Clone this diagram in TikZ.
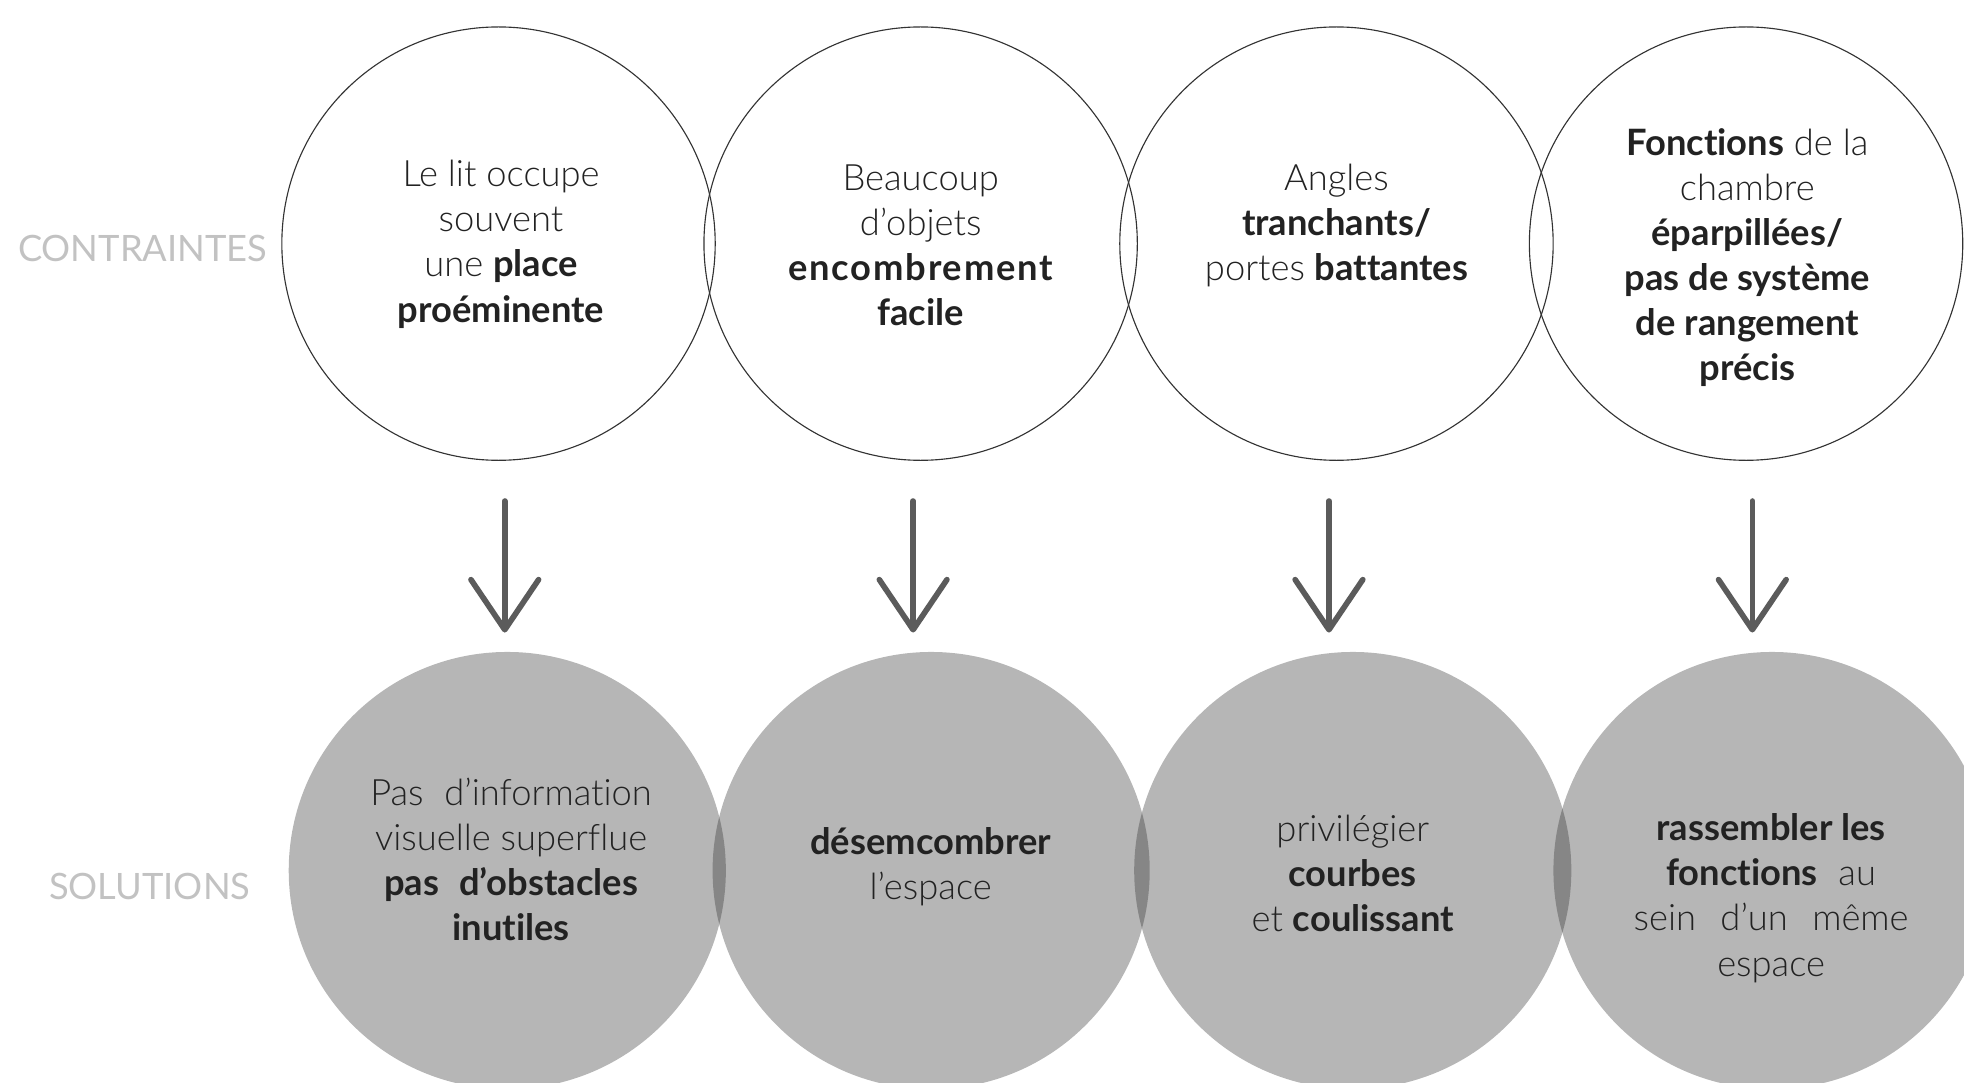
\documentclass[tikz,border=0pt]{standalone}
\usepackage{fontspec}
\setmainfont{Lato}[UprightFont=* Light, BoldFont=* Bold, Ligatures=NoCommon]
\newfontfamily\labelfont{Lato}
\usetikzlibrary{arrows.meta}
\definecolor{outline}{HTML}{333333}
\definecolor{solfill}{HTML}{323232}
\definecolor{arrowcol}{HTML}{5B5B5B}
\definecolor{sidecol}{HTML}{C2C2C2}
\definecolor{txtcol}{HTML}{222222}
\begin{document}
\begin{tikzpicture}[x=1pt,y=-1pt,
  topc/.style={circle, draw=outline, line width=0.9pt, minimum size=346pt, inner sep=0pt},
  botc/.style={circle, fill=solfill, fill opacity=0.356, draw=none, minimum size=349pt, inner sep=0pt},
  txt/.style={align=center, text=txtcol, font=\fontsize{29}{36}\selectfont, inner sep=0pt},
  side/.style={text=sidecol, font=\labelfont\fontsize{29}{36}\selectfont, inner sep=0pt},
  flow/.style={draw=arrowcol, line width=4.5pt, line cap=round, line join=round,
    -{Straight Barb[length=40pt, width=54pt, line cap=round, line join=round]}}
]
\useasboundingbox (0,0) rectangle (1568,864.6);
\clip (0,0) rectangle (1568,864.6);

% side labels
\node[side] (lc) at (114,198) {CONTRAINTES};
\node[side] (ls) at (119.5,708) {SOLUTIONS};

% top circles
\node[topc] (c1) at (398,194.5) {};
\node[topc] (c2) at (735,194.5) {};
\node[topc] (c3) at (1067,194.5) {};
\node[topc] (c4) at (1394,194.5) {};

% bottom circles
\node[botc] (b1) at (405,695) {};
\node[botc] (b2) at (743.4,695) {};
\node[botc] (b3) at (1080,695) {};
\node[botc] (b4) at (1414.7,695) {};

% top texts
\node[txt] (t1) at (400,195) {Le lit occupe\\souvent\\une \textbf{place}\\\textbf{proéminente}};
\node[txt] (t2) at (735,196) {Beaucoup\\d’objets\\{\bfseries\addfontfeature{LetterSpace=5}encombrement}\\\textbf{facile}};
\node[txt] (t3) at (1067,180) {Angles\\\textbf{tranchants/}\\portes \textbf{battantes}};
\node[txt] (t4) at (1395,205.5) {\textbf{Fonctions} de la\\chambre\\\textbf{éparpillées/}\\\textbf{pas de système}\\\textbf{de rangement}\\\textbf{précis}};

% bottom texts
\node[txt] (s1) at (408,686) {Pas\hspace{0.3em} d’information\\visuelle superflue\\\textbf{pas\hspace{0.3em} d’obstacles}\\\textbf{inutiles}};
\node[txt] (s2) at (743,692) {\textbf{désemcombrer}\\l’espace};
\node[txt] (s3) at (1080,697) {privilégier\\\textbf{courbes}\\et \textbf{coulissant}};
\node[txt] (s4) at (1414,717) {\textbf{rassembler les}\\\textbf{fonctions}\hspace{0.3em} au\\sein\hspace{0.4em} d’un\hspace{0.4em} même\\espace};

% arrows
\coordinate (a1s) at (403,400); \coordinate (a1e) at (403,505);
\coordinate (a2s) at (729,400); \coordinate (a2e) at (729,505);
\coordinate (a3s) at (1061,400); \coordinate (a3e) at (1061,505);
\coordinate (a4s) at (1399,400); \coordinate (a4e) at (1399,505);
\draw[flow] (a1s) -- (a1e);
\draw[flow] (a2s) -- (a2e);
\draw[flow] (a3s) -- (a3e);
\draw[flow] (a4s) -- (a4e);
\end{tikzpicture}
\end{document}
